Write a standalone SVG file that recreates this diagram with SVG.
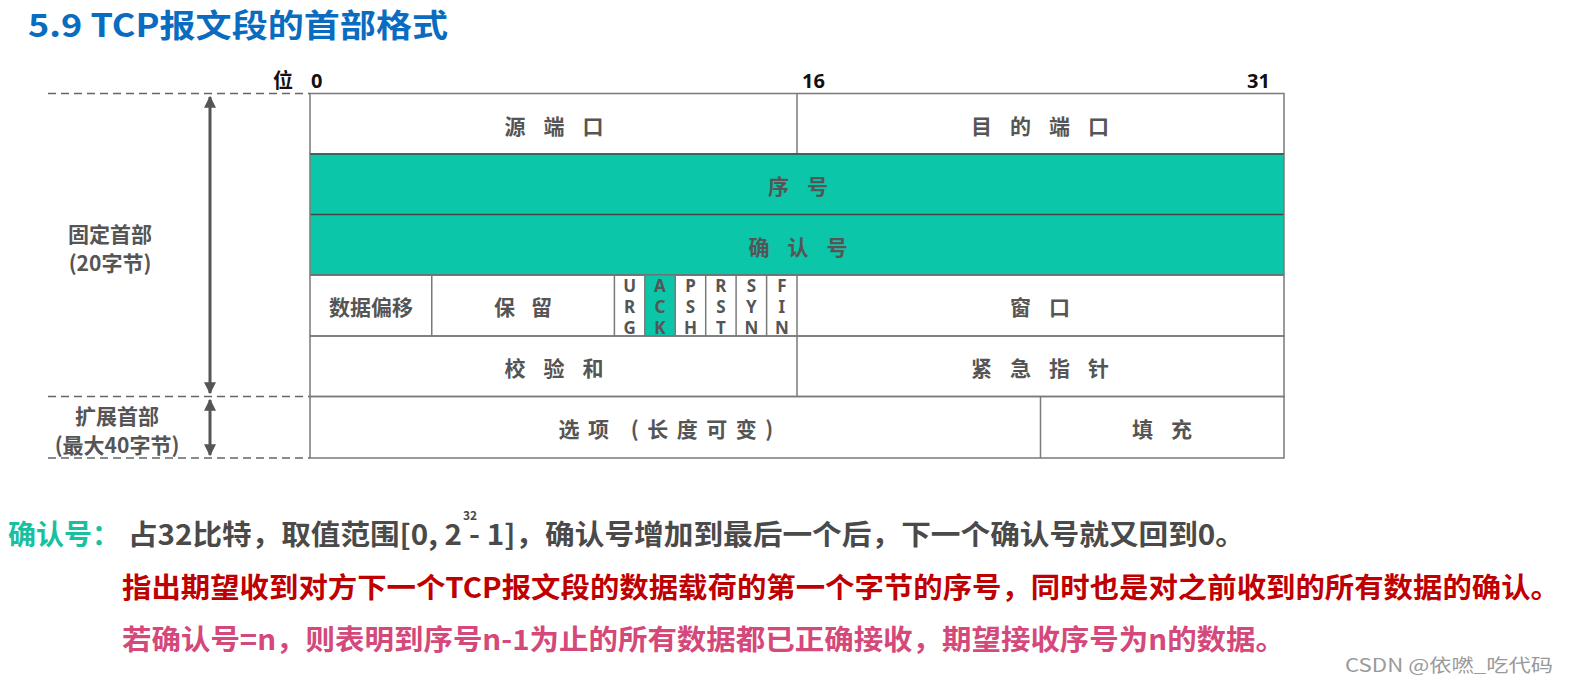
<svg xmlns="http://www.w3.org/2000/svg" width="1572" height="690" viewBox="0 0 1572 690">
<style>
.cjk{font-family:"Noto Sans CJK SC","Noto Sans",sans-serif;font-weight:bold}
.cell{font-family:"Noto Sans CJK SC","Noto Sans",sans-serif;font-weight:bold;font-size:21px;fill:#555;text-anchor:middle;dominant-baseline:central}
.flag{font-family:"Noto Sans","Noto Sans CJK SC",sans-serif;font-weight:bold;font-size:17px;fill:#555;text-anchor:middle;dominant-baseline:central}
.bit{font-family:"Noto Sans","Noto Sans CJK SC",sans-serif;font-weight:bold;font-size:20px;fill:#111}
.side{font-family:"Noto Sans CJK SC","Noto Sans",sans-serif;font-weight:bold;font-size:21px;fill:#555;text-anchor:middle;dominant-baseline:central}
.grid{stroke:#7a7a7a;stroke-width:1.5;fill:none}
.dark{stroke:#444;stroke-width:1.5}
.dash{stroke:#666;stroke-width:1.5;stroke-dasharray:8 5}
.arr{stroke:#555;stroke-width:3}
</style>
<defs>
<marker id="ah" viewBox="0 0 10 10" refX="9" refY="5" markerWidth="4" markerHeight="4" orient="auto-start-reverse">
<path d="M0,0 L10,5 L0,10 z" fill="#555"/>
</marker>
</defs>
<rect width="1572" height="690" fill="#fff"/>

<text id="title" class="cjk" x="28" y="37" font-size="32" fill="#0a6cc0" textLength="420" lengthAdjust="spacingAndGlyphs">5.9 TCP报文段的首部格式</text>

<g id="bit-labels">
<text class="bit" x="273" y="88">位</text>
<text class="bit" x="311" y="88">0</text>
<text class="bit" x="802" y="88">16</text>
<text class="bit" x="1247" y="88">31</text>
</g>

<g id="connectors">
<line class="dash" x1="48" y1="93.5" x2="310" y2="93.5"/>
<line class="dash" x1="48" y1="396.5" x2="310" y2="396.5"/>
<line class="dash" x1="48" y1="458" x2="310" y2="458"/>
<line class="arr" x1="210" y1="97" x2="210" y2="393" marker-start="url(#ah)" marker-end="url(#ah)"/>
<line class="arr" x1="210" y1="400" x2="210" y2="455" marker-start="url(#ah)" marker-end="url(#ah)"/>
</g>

<g id="side-labels">
<text class="side" x="110" y="233">固定首部</text>
<text class="side" x="110" y="262">(20字节)</text>
<text class="side" x="117" y="415">扩展首部</text>
<text class="side" x="117" y="444">(最大40字节)</text>
</g>

<g id="row1">
<rect class="grid" x="310" y="93.5" width="974" height="60.5"/>
<line class="grid" x1="797" y1="93.5" x2="797" y2="154"/>
<g id="src-port"><text class="cell" x="563" y="125" letter-spacing="18">源端口</text></g>
<g id="dst-port"><text class="cell" x="1049" y="125" letter-spacing="18">目的端口</text></g>
</g>

<g id="seq">
<rect x="310" y="154" width="974" height="60.5" fill="#0bc6a8"/>
<text class="cell" x="807" y="185" letter-spacing="18" fill="#4a4a4a">序号</text>
</g>
<g id="ack-num">
<rect x="310" y="214.5" width="974" height="60.5" fill="#0bc6a8"/>
<text class="cell" x="807" y="245.5" letter-spacing="18" fill="#4a4a4a">确认号</text>
</g>
<line class="dark" x1="310" y1="154" x2="1284" y2="154"/>
<line class="dark" x1="310" y1="214.5" x2="1284" y2="214.5"/>
<line class="dark" x1="310" y1="275" x2="1284" y2="275"/>
<line class="grid" x1="310" y1="154" x2="310" y2="275"/>
<line class="grid" x1="1284" y1="154" x2="1284" y2="275"/>

<g id="row4">
<rect x="644.8" y="275" width="30.4" height="61" fill="#0bc6a8"/>
<rect class="grid" x="310" y="275" width="974" height="61"/>
<line class="grid" x1="431.75" y1="275" x2="431.75" y2="336"/>
<line class="grid" x1="614.4" y1="275" x2="614.4" y2="336"/>
<line class="grid" x1="644.8" y1="275" x2="644.8" y2="336"/>
<line class="grid" x1="675.25" y1="275" x2="675.25" y2="336"/>
<line class="grid" x1="705.7" y1="275" x2="705.7" y2="336"/>
<line class="grid" x1="736.1" y1="275" x2="736.1" y2="336"/>
<line class="grid" x1="766.6" y1="275" x2="766.6" y2="336"/>
<line class="grid" x1="797" y1="275" x2="797" y2="336"/>
<g id="data-offset"><text class="cell" x="371" y="306">数据偏移</text></g>
<g id="reserved"><text class="cell" x="531" y="306" letter-spacing="16">保留</text></g>
<g id="flag-urg"><text class="flag" x="629.6" y="285">U</text><text class="flag" x="629.6" y="306">R</text><text class="flag" x="629.6" y="327">G</text></g>
<g id="flag-ack"><text class="flag" x="660" y="285">A</text><text class="flag" x="660" y="306">C</text><text class="flag" x="660" y="327">K</text></g>
<g id="flag-psh"><text class="flag" x="690.5" y="285">P</text><text class="flag" x="690.5" y="306">S</text><text class="flag" x="690.5" y="327">H</text></g>
<g id="flag-rst"><text class="flag" x="720.9" y="285">R</text><text class="flag" x="720.9" y="306">S</text><text class="flag" x="720.9" y="327">T</text></g>
<g id="flag-syn"><text class="flag" x="751.4" y="285">S</text><text class="flag" x="751.4" y="306">Y</text><text class="flag" x="751.4" y="327">N</text></g>
<g id="flag-fin"><text class="flag" x="781.8" y="285">F</text><text class="flag" x="781.8" y="306">I</text><text class="flag" x="781.8" y="327">N</text></g>
<g id="window"><text class="cell" x="1049" y="306" letter-spacing="18">窗口</text></g>
</g>

<g id="row5">
<rect class="grid" x="310" y="336" width="974" height="60.5"/>
<line class="grid" x1="797" y1="336" x2="797" y2="396.5"/>
<g id="checksum"><text class="cell" x="563" y="367" letter-spacing="18">校验和</text></g>
<g id="urgent"><text class="cell" x="1049" y="367" letter-spacing="18">紧急指针</text></g>
</g>

<g id="row6">
<rect class="grid" x="310" y="396.5" width="974" height="61.5"/>
<line class="grid" x1="1040.5" y1="396.5" x2="1040.5" y2="458"/>
<g id="options"><text class="cell" x="670" y="428" letter-spacing="8.5">选项 (长度可变)</text></g>
<g id="padding"><text class="cell" x="1171" y="428" letter-spacing="18">填充</text></g>
</g>

<g id="notes">
<text class="cjk" x="8" y="545" font-size="28" fill="#19c0a0" textLength="112" lengthAdjust="spacingAndGlyphs">确认号：</text>
<text class="cjk" x="128" y="545" font-size="28" fill="#4a4a4a" textLength="334" lengthAdjust="spacingAndGlyphs">占32比特，取值范围[0, 2</text>
<text class="cjk" x="463" y="520" font-size="12" fill="#4a4a4a">32</text>
<text class="cjk" x="469" y="545" font-size="28" fill="#4a4a4a" textLength="776" lengthAdjust="spacingAndGlyphs">- 1]，确认号增加到最后一个后，下一个确认号就又回到0。</text>
<text class="cjk" x="122" y="598" font-size="28" fill="#c00000" textLength="1438" lengthAdjust="spacingAndGlyphs">指出期望收到对方下一个TCP报文段的数据载荷的第一个字节的序号，同时也是对之前收到的所有数据的确认。</text>
<text class="cjk" x="122" y="650" font-size="28" fill="#d4487a" stroke="#fff" stroke-width="2" paint-order="stroke" textLength="1163" lengthAdjust="spacingAndGlyphs">若确认号=n，则表明到序号n-1为止的所有数据都已正确接收，期望接收序号为n的数据。</text>
</g>

<text id="watermark" x="1345" y="672" font-family="'Noto Sans CJK SC','Noto Sans',sans-serif" font-size="18" fill="#9a9a9a" textLength="208" lengthAdjust="spacingAndGlyphs">CSDN @依嘫_吃代码</text>
</svg>
